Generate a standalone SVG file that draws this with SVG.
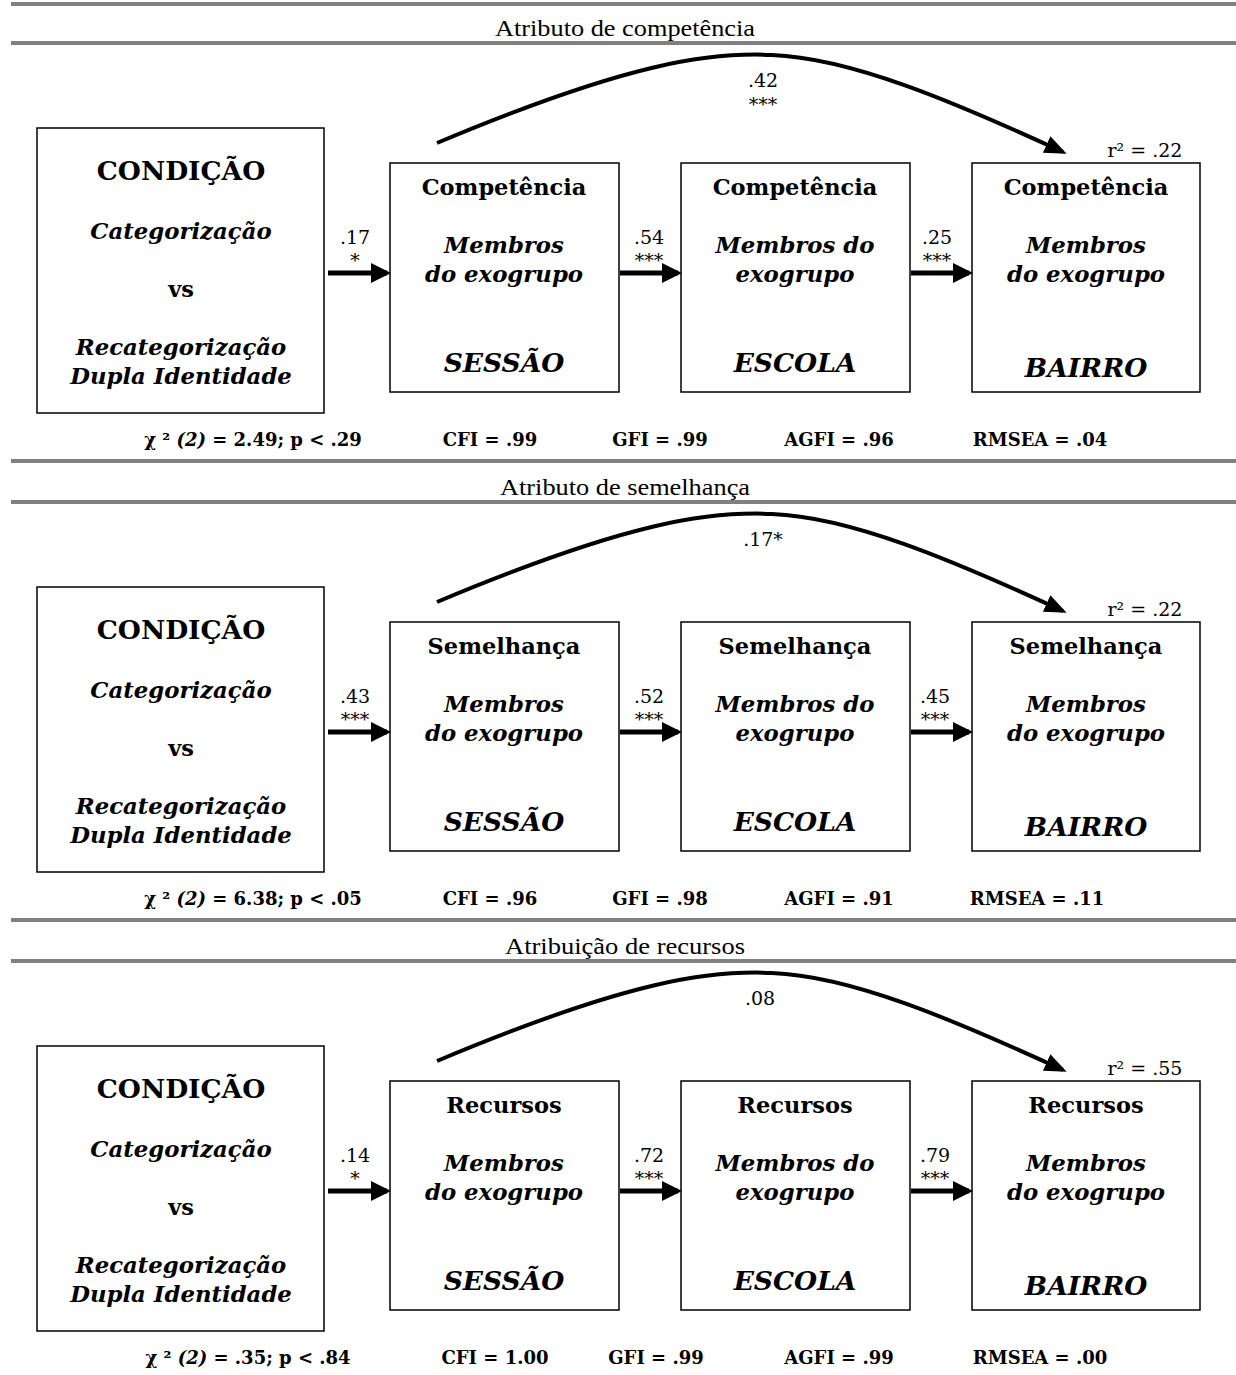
<svg xmlns="http://www.w3.org/2000/svg" width="1236" height="1375" viewBox="0 0 1236 1375">
<style>
  text { font-family: "DejaVu Serif", "Liberation Serif", serif; fill: #000; text-anchor: middle; }
  .title { font-family: "Liberation Serif", serif; font-size: 23px; }
  .cond { font-size: 26.5px; font-weight: bold; }
  .bi { font-size: 22.8px; font-weight: bold; font-style: italic; }
  .b { font-size: 22.5px; font-weight: bold; }
  .big { font-size: 26.5px; font-weight: bold; font-style: italic; }
  .lab { font-size: 19px; }
  .star { font-size: 19px; }
  .stat { font-size: 18px; font-weight: bold; }
  .box { fill: #fff; stroke: #000; stroke-width: 1.5; }
  .rule { stroke: #808080; stroke-width: 4; }
  .arr { stroke: #000; stroke-width: 5; fill: none; }
  .curve { stroke: #000; stroke-width: 4; fill: none; }
</style>
<defs>
  <marker id="head" markerWidth="4" markerHeight="4" refX="3.2" refY="2" orient="auto" markerUnits="strokeWidth" viewBox="0 0 4 4">
    <path d="M0,0 L4,2 L0,4 Z" fill="#000"/>
  </marker>
  <marker id="headc" markerWidth="5.5" markerHeight="4.5" refX="4.5" refY="2.25" orient="auto" markerUnits="strokeWidth" viewBox="0 0 5.5 4.5">
    <path d="M0,0 L5.5,2.25 L0,4.5 Z" fill="#000"/>
  </marker>
</defs>
<rect width="1236" height="1375" fill="#fff"/>

<g id="rules">
  <line class="rule" x1="11" y1="4" x2="1236" y2="4"/>
  <line class="rule" x1="11" y1="43" x2="1236" y2="43"/>
  <line class="rule" x1="11" y1="461" x2="1236" y2="461"/>
  <line class="rule" x1="11" y1="502" x2="1236" y2="502"/>
  <line class="rule" x1="11" y1="920" x2="1236" y2="920"/>
  <line class="rule" x1="11" y1="961" x2="1236" y2="961"/>
</g>

<!-- Section 1 -->
<g id="section1">
  <text class="title" x="625" y="36" textLength="260" lengthAdjust="spacingAndGlyphs">Atributo de competência</text>
  <g id="s1-condicao">
    <rect class="box" x="37" y="128" width="287" height="285"/>
    <text class="cond" x="181" y="180">CONDIÇÃO</text>
    <text class="bi" x="181" y="239">Categorização</text>
    <text class="b" x="181" y="297">vs</text>
    <text class="bi" x="181" y="355">Recategorização</text>
    <text class="bi" x="181" y="384">Dupla Identidade</text>
  </g>
  <g id="s1-sessao">
    <rect class="box" x="390" y="163" width="229" height="229"/>
    <text class="b" x="504" y="195">Competência</text>
    <text class="bi" x="504" y="253">Membros</text>
    <text class="bi" x="504" y="282">do exogrupo</text>
    <text class="big" x="504" y="372">SESSÃO</text>
  </g>
  <g id="s1-escola">
    <rect class="box" x="681" y="163" width="229" height="229"/>
    <text class="b" x="795" y="195">Competência</text>
    <text class="bi" x="795" y="253">Membros do</text>
    <text class="bi" x="795" y="282">exogrupo</text>
    <text class="big" x="795" y="372">ESCOLA</text>
  </g>
  <g id="s1-bairro">
    <rect class="box" x="972" y="163" width="228" height="229"/>
    <text class="b" x="1086" y="195">Competência</text>
    <text class="bi" x="1086" y="253">Membros</text>
    <text class="bi" x="1086" y="282">do exogrupo</text>
    <text class="big" x="1086" y="377">BAIRRO</text>
  </g>
  <g id="s1-connectors">
    <line class="arr" x1="328" y1="273" x2="387" y2="273" marker-end="url(#head)"/>
    <line class="arr" x1="620" y1="273" x2="678" y2="273" marker-end="url(#head)"/>
    <line class="arr" x1="911" y1="273" x2="969" y2="273" marker-end="url(#head)"/>
    <path class="curve" d="M437,143 C630,62 710,52 772,55 C850,58 950,100 1063,152" marker-end="url(#headc)"/>
  </g>
  <g id="s1-labels">
    <text class="lab" x="355" y="244">.17</text>
    <text class="star" x="355" y="267">*</text>
    <text class="lab" x="649" y="244">.54</text>
    <text class="star" x="649" y="267">***</text>
    <text class="lab" x="937" y="244">.25</text>
    <text class="star" x="937" y="267">***</text>
    <text class="lab" x="763" y="87">.42</text>
    <text class="star" x="763" y="111">***</text>
    <text class="lab" x="1145" y="157">r² = .22</text>
  </g>
  <g id="s1-fit">
    <text class="stat" x="253" y="446">χ ² <tspan font-style="italic">(2)</tspan> = 2.49; p &lt; .29</text>
    <text class="stat" x="490" y="446">CFI = .99</text>
    <text class="stat" x="660" y="446">GFI = .99</text>
    <text class="stat" x="839" y="446">AGFI = .96</text>
    <text class="stat" x="1040" y="446">RMSEA = .04</text>
  </g>
</g>

<!-- Section 2 -->
<g id="section2" transform="translate(0,459)">
  <text class="title" x="625" y="36" textLength="250" lengthAdjust="spacingAndGlyphs">Atributo de semelhança</text>
  <g id="s2-condicao">
    <rect class="box" x="37" y="128" width="287" height="285"/>
    <text class="cond" x="181" y="180">CONDIÇÃO</text>
    <text class="bi" x="181" y="239">Categorização</text>
    <text class="b" x="181" y="297">vs</text>
    <text class="bi" x="181" y="355">Recategorização</text>
    <text class="bi" x="181" y="384">Dupla Identidade</text>
  </g>
  <g id="s2-sessao">
    <rect class="box" x="390" y="163" width="229" height="229"/>
    <text class="b" x="504" y="195">Semelhança</text>
    <text class="bi" x="504" y="253">Membros</text>
    <text class="bi" x="504" y="282">do exogrupo</text>
    <text class="big" x="504" y="372">SESSÃO</text>
  </g>
  <g id="s2-escola">
    <rect class="box" x="681" y="163" width="229" height="229"/>
    <text class="b" x="795" y="195">Semelhança</text>
    <text class="bi" x="795" y="253">Membros do</text>
    <text class="bi" x="795" y="282">exogrupo</text>
    <text class="big" x="795" y="372">ESCOLA</text>
  </g>
  <g id="s2-bairro">
    <rect class="box" x="972" y="163" width="228" height="229"/>
    <text class="b" x="1086" y="195">Semelhança</text>
    <text class="bi" x="1086" y="253">Membros</text>
    <text class="bi" x="1086" y="282">do exogrupo</text>
    <text class="big" x="1086" y="377">BAIRRO</text>
  </g>
  <g id="s2-connectors">
    <line class="arr" x1="328" y1="273" x2="387" y2="273" marker-end="url(#head)"/>
    <line class="arr" x1="620" y1="273" x2="678" y2="273" marker-end="url(#head)"/>
    <line class="arr" x1="911" y1="273" x2="969" y2="273" marker-end="url(#head)"/>
    <path class="curve" d="M437,143 C630,62 710,52 772,55 C850,58 950,100 1063,152" marker-end="url(#headc)"/>
  </g>
  <g id="s2-labels">
    <text class="lab" x="355" y="244">.43</text>
    <text class="star" x="355" y="267">***</text>
    <text class="lab" x="649" y="244">.52</text>
    <text class="star" x="649" y="267">***</text>
    <text class="lab" x="935" y="244">.45</text>
    <text class="star" x="935" y="267">***</text>
    <text class="lab" x="763" y="87">.17*</text>
    <text class="lab" x="1145" y="157">r² = .22</text>
  </g>
  <g id="s2-fit">
    <text class="stat" x="253" y="446">χ ² <tspan font-style="italic">(2)</tspan> = 6.38; p &lt; .05</text>
    <text class="stat" x="490" y="446">CFI = .96</text>
    <text class="stat" x="660" y="446">GFI = .98</text>
    <text class="stat" x="839" y="446">AGFI = .91</text>
    <text class="stat" x="1037" y="446">RMSEA = .11</text>
  </g>
</g>

<!-- Section 3 -->
<g id="section3" transform="translate(0,918)">
  <text class="title" x="625" y="36" textLength="240" lengthAdjust="spacingAndGlyphs">Atribuição de recursos</text>
  <g id="s3-condicao">
    <rect class="box" x="37" y="128" width="287" height="285"/>
    <text class="cond" x="181" y="180">CONDIÇÃO</text>
    <text class="bi" x="181" y="239">Categorização</text>
    <text class="b" x="181" y="297">vs</text>
    <text class="bi" x="181" y="355">Recategorização</text>
    <text class="bi" x="181" y="384">Dupla Identidade</text>
  </g>
  <g id="s3-sessao">
    <rect class="box" x="390" y="163" width="229" height="229"/>
    <text class="b" x="504" y="195">Recursos</text>
    <text class="bi" x="504" y="253">Membros</text>
    <text class="bi" x="504" y="282">do exogrupo</text>
    <text class="big" x="504" y="372">SESSÃO</text>
  </g>
  <g id="s3-escola">
    <rect class="box" x="681" y="163" width="229" height="229"/>
    <text class="b" x="795" y="195">Recursos</text>
    <text class="bi" x="795" y="253">Membros do</text>
    <text class="bi" x="795" y="282">exogrupo</text>
    <text class="big" x="795" y="372">ESCOLA</text>
  </g>
  <g id="s3-bairro">
    <rect class="box" x="972" y="163" width="228" height="229"/>
    <text class="b" x="1086" y="195">Recursos</text>
    <text class="bi" x="1086" y="253">Membros</text>
    <text class="bi" x="1086" y="282">do exogrupo</text>
    <text class="big" x="1086" y="377">BAIRRO</text>
  </g>
  <g id="s3-connectors">
    <line class="arr" x1="328" y1="273" x2="387" y2="273" marker-end="url(#head)"/>
    <line class="arr" x1="620" y1="273" x2="678" y2="273" marker-end="url(#head)"/>
    <line class="arr" x1="911" y1="273" x2="969" y2="273" marker-end="url(#head)"/>
    <path class="curve" d="M437,143 C630,62 710,52 772,55 C850,58 950,100 1063,152" marker-end="url(#headc)"/>
  </g>
  <g id="s3-labels">
    <text class="lab" x="355" y="244">.14</text>
    <text class="star" x="355" y="267">*</text>
    <text class="lab" x="649" y="244">.72</text>
    <text class="star" x="649" y="267">***</text>
    <text class="lab" x="935" y="244">.79</text>
    <text class="star" x="935" y="267">***</text>
    <text class="lab" x="760" y="87">.08</text>
    <text class="lab" x="1145" y="157">r² = .55</text>
  </g>
  <g id="s3-fit">
    <text class="stat" x="248" y="446">χ ² <tspan font-style="italic">(2)</tspan> = .35; p &lt; .84</text>
    <text class="stat" x="495" y="446">CFI = 1.00</text>
    <text class="stat" x="656" y="446">GFI = .99</text>
    <text class="stat" x="839" y="446">AGFI = .99</text>
    <text class="stat" x="1040" y="446">RMSEA = .00</text>
  </g>
</g>
</svg>
